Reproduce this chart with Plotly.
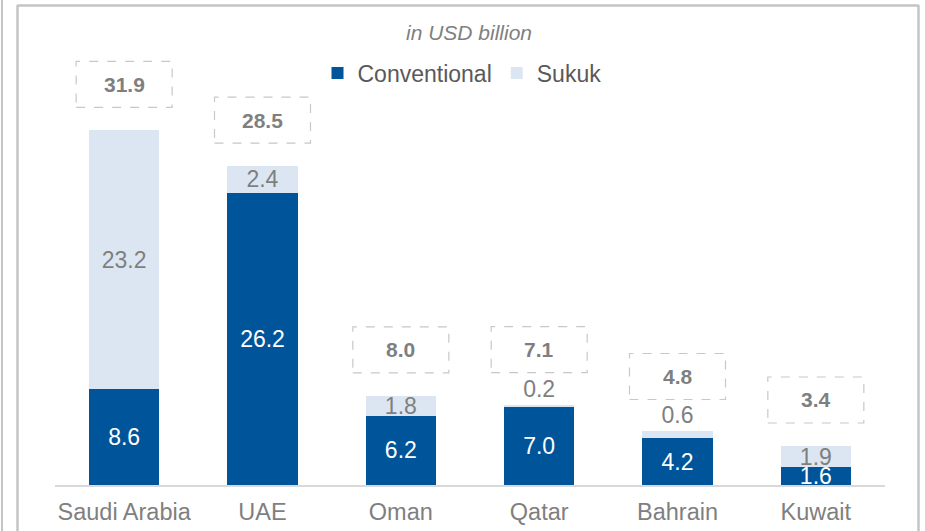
import plotly.graph_objects as go

countries = ["Saudi Arabia", "UAE", "Oman", "Qatar", "Bahrain", "Kuwait"]
conventional = [8.6, 26.2, 6.2, 7.0, 4.2, 1.6]
sukuk = [23.2, 2.4, 1.8, 0.2, 0.6, 1.9]
totals = [31.9, 28.5, 8.0, 7.1, 4.8, 3.4]

FONT = "Liberation Sans, Arial, sans-serif"
C_CONV = "#00559A"
C_SUK = "#DCE6F2"
GREY = "#7F7F7F"

W, H = 925, 531
ML, MR, MT, MB = 55, 40, 10, 46
PW, PH = W - ML - MR, H - MT - MB
PX_PER_UNIT = 11.15
YMAX = PH / PX_PER_UNIT


def px_x(p):
    return (p - ML) / PW


def px_y(p):
    return (H - MB - p) / PH


suk_pos = ["outside" if v < 1 else "inside" for v in sukuk]

fig = go.Figure()
fig.add_trace(go.Bar(
    x=countries, y=conventional, name="Conventional",
    marker=dict(color=C_CONV, line=dict(width=0)),
    text=[f"{v:.1f}" for v in conventional], textposition="inside",
    insidetextanchor="middle",
    textfont=dict(color="white", size=23, family=FONT),
    width=0.51, cliponaxis=False, hoverinfo="skip",
))
fig.add_trace(go.Bar(
    x=countries, y=sukuk, name="Sukuk",
    marker=dict(color=C_SUK, line=dict(width=0)),
    text=[f"{v:.1f}" for v in sukuk], textposition=suk_pos,
    insidetextanchor="middle",
    textfont=dict(color=GREY, size=23, family=FONT),
    outsidetextfont=dict(color=GREY, size=23, family=FONT),
    width=0.51, cliponaxis=False, hoverinfo="skip",
))

shapes = []
annotations = []
for i, (c, cv, sv, tot, pos) in enumerate(zip(countries, conventional, sukuk, totals, suk_pos)):
    top = cv + sv
    gap = 23 + (9 if pos == "outside" else 0)
    shapes.append(dict(
        type="rect", xref="x", yref="y",
        xsizemode="pixel", ysizemode="pixel",
        xanchor=i, yanchor=top,
        x0=-48, x1=48, y0=gap, y1=gap + 46,
        line=dict(color="#C8C8C8", width=1.2, dash="dash"),
        fillcolor="rgba(0,0,0,0)", layer="above",
    ))
    annotations.append(dict(
        x=c, y=top, xref="x", yref="y", text=f"<b>{tot:.1f}</b>",
        showarrow=False, yshift=gap + 23, yanchor="middle",
        font=dict(size=21, color=GREY, family=FONT),
    ))

# frame lines
frame = "#C4C4C4"
shapes += [
    dict(type="line", xref="paper", yref="paper", x0=px_x(2), x1=px_x(2),
         y0=px_y(0), y1=px_y(H + 5), line=dict(color=frame, width=2)),
    dict(type="line", xref="paper", yref="paper", x0=px_x(17.5), x1=px_x(17.5),
         y0=px_y(5), y1=px_y(H + 5), line=dict(color=frame, width=2.5)),
    dict(type="line", xref="paper", yref="paper", x0=px_x(17.5), x1=px_x(918.5),
         y0=px_y(5.5), y1=px_y(5.5), line=dict(color=frame, width=2.5)),
    dict(type="line", xref="paper", yref="paper", x0=px_x(918.5), x1=px_x(918.5),
         y0=px_y(5), y1=px_y(H + 5), line=dict(color=frame, width=2.5)),
]

annotations.append(dict(
    x=px_x(469), y=px_y(33), xref="paper", yref="paper",
    text="<i>in USD billion</i>", showarrow=False,
    xanchor="center", yanchor="middle",
    font=dict(size=21, color=GREY, family=FONT),
))

fig.update_layout(
    width=W, height=H,
    margin=dict(l=ML, r=MR, t=MT, b=MB, pad=0, autoexpand=False),
    paper_bgcolor="white", plot_bgcolor="white",
    barmode="stack", bargap=0.49,
    font=dict(family=FONT, color=GREY),
    uniformtext=dict(minsize=23, mode="show"),
    showlegend=True,
    legend=dict(
        orientation="h", x=px_x(462), xanchor="center",
        y=px_y(73), yanchor="middle", traceorder="normal",
        font=dict(size=23, color="#595959", family=FONT),
        bgcolor="rgba(0,0,0,0)", itemclick=False, itemdoubleclick=False,
    ),
    xaxis=dict(
        showline=True, linecolor="#D9D9D9", linewidth=2,
        showgrid=False, zeroline=False, automargin=False,
        ticks="outside", ticklen=5, tickcolor="rgba(0,0,0,0)",
        tickfont=dict(size=23.5, color=GREY, family=FONT),
        fixedrange=True,
    ),
    yaxis=dict(visible=False, range=[0, YMAX], fixedrange=True,
               automargin=False),
    shapes=shapes, annotations=annotations,
)

fig.write_html(
    "out.html",
    config={"displayModeBar": False},
    post_script="document.body.style.margin='0';document.body.style.overflow='hidden';",
)
